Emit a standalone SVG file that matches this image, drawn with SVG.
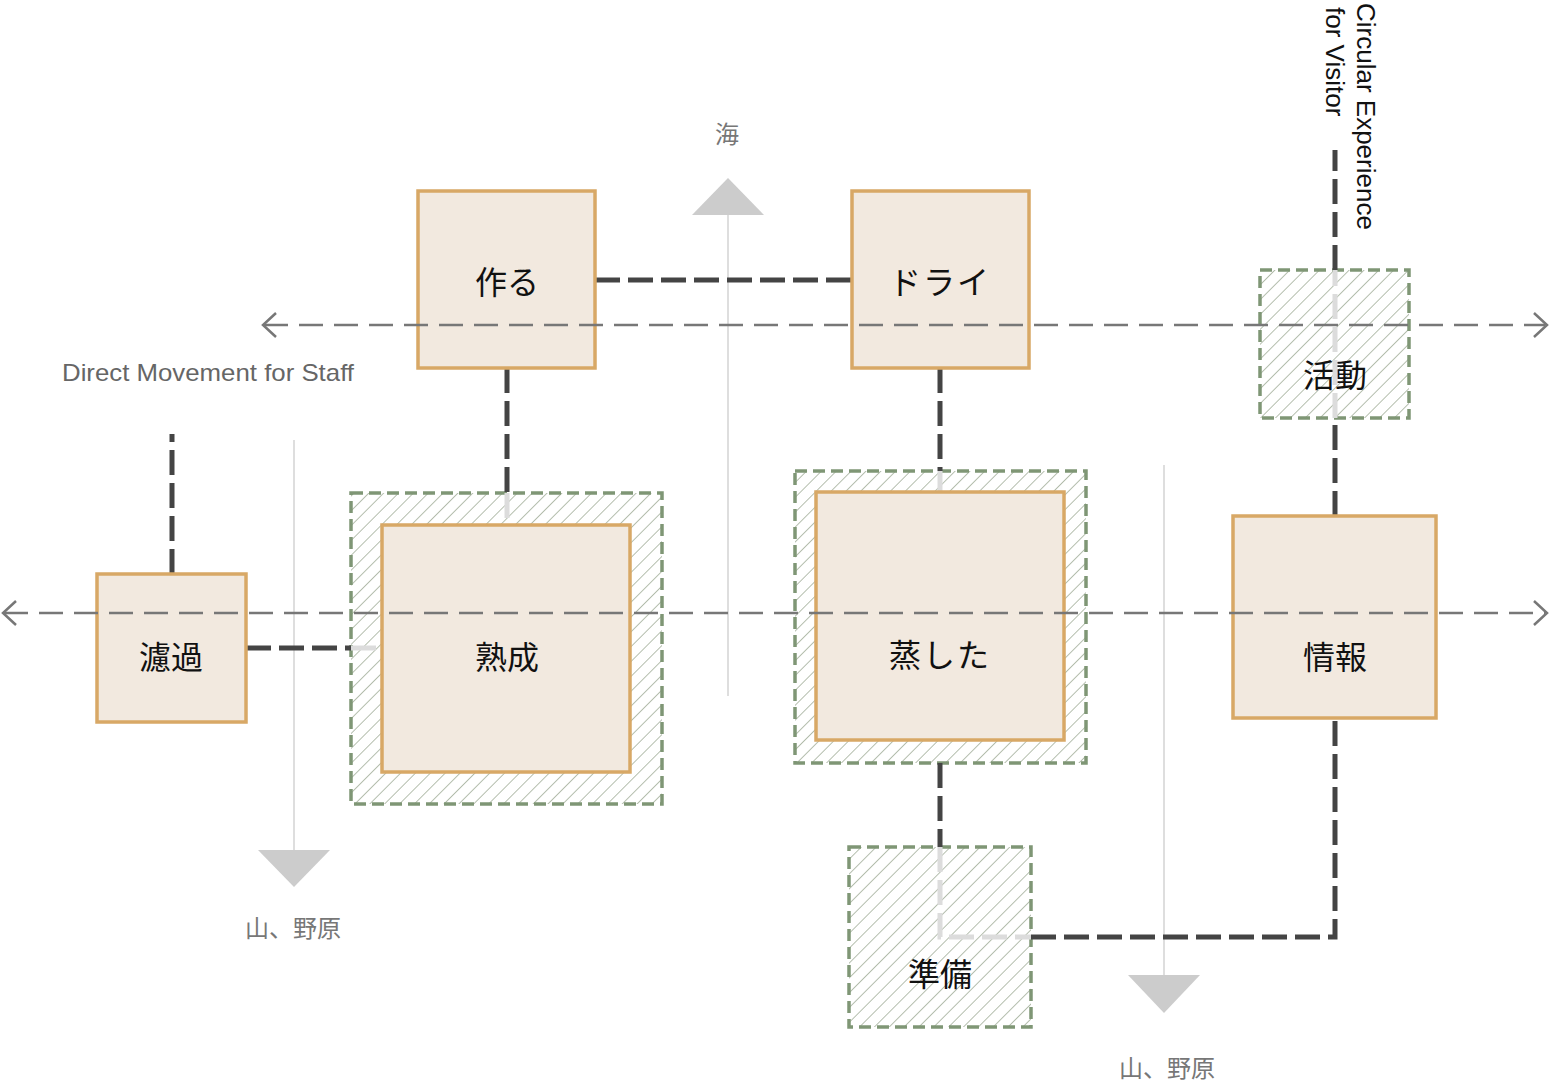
<svg xmlns="http://www.w3.org/2000/svg" width="1549" height="1081" viewBox="0 0 1549 1081">
<style>
.node{fill:#f2e9df;stroke:#d8a866;stroke-width:3.5}
.zone{fill:url(#hatch);stroke:#7f9675;stroke-width:3.5;stroke-dasharray:12 6}
.lbl{font-family:"Noto Sans CJK JP","Noto Sans",sans-serif;font-size:32px;fill:#111;text-anchor:middle;dominant-baseline:central}
.dir{font-family:"Noto Sans CJK JP","Noto Sans",sans-serif;font-size:24px;fill:#777;text-anchor:middle}
.en{font-family:"Liberation Sans",Arial,sans-serif;font-size:24px;fill:#666}
.ver{font-family:"Liberation Sans",Arial,sans-serif;font-size:26px;fill:#111}
.dark{fill:none;stroke:#444;stroke-width:5;stroke-dasharray:25 8}
.light{fill:none;stroke:#dcdcdc;stroke-width:5;stroke-dasharray:25 8}
.flow{fill:none;stroke:#777;stroke-width:2.5;stroke-dasharray:24 11}
.head{fill:none;stroke:#777;stroke-width:2.5}
.axis{fill:none;stroke:#dedede;stroke-width:2}
.tri{fill:#cccccc}
</style>
<defs>
<pattern id="hatch" patternUnits="userSpaceOnUse" width="10.5" height="10.5" patternTransform="rotate(45)">
<rect width="10.5" height="10.5" fill="#fff"/>
<line x1="0" y1="0" x2="0" y2="10.5" stroke="#adb8a6" stroke-width="1.8"/>
</pattern>
</defs>
<rect width="1549" height="1081" fill="#fff"/>

<g id="axes">
<line class="axis" x1="728" y1="214" x2="728" y2="696"/>
<polygon class="tri" points="692,215 764,215 728,178"/>
<line class="axis" x1="294" y1="440" x2="294" y2="851"/>
<polygon class="tri" points="258,850 330,850 294,887"/>
<line class="axis" x1="1164" y1="465" x2="1164" y2="976"/>
<polygon class="tri" points="1128,975 1200,975 1164,1013"/>
<text class="dir" x="727" y="143">海</text>
<text class="dir" x="293" y="937">山、野原</text>
<text class="dir" x="1167" y="1077">山、野原</text>
</g>

<g id="zone-jukusei"><rect class="zone" x="351" y="493" width="311" height="311"/></g>
<g id="zone-mushita"><rect class="zone" x="795" y="471" width="291" height="292"/></g>
<g id="zone-katsudo"><rect class="zone" x="1260" y="270" width="149" height="148"/><text class="lbl" x="1335" y="373">活動</text></g>
<g id="zone-junbi"><rect class="zone" x="849" y="847" width="182" height="180"/><text class="lbl" x="940" y="972">準備</text></g>

<g id="connectors">
<path class="light" d="M507,493 V525"/>
<path class="light" d="M940,471 V492"/>
<path class="light" d="M351,648 H382"/>
<path class="light" d="M940,847 V937 H1031"/>
<path class="light" d="M1335,418 V270"/>
<path class="dark" d="M595,280 H852"/>
<path class="dark" d="M507,368 V493"/>
<path class="dark" d="M940,368 V471"/>
<path class="dark" d="M246,648 H351"/>
<path class="dark" d="M172,574 V434"/>
<path class="dark" d="M940,763 V847"/>
<path class="dark" d="M1031,937 H1335 V718"/>
<path class="dark" d="M1335,516 V418"/>
<path class="dark" d="M1335,270 V150"/>
</g>

<g id="n-tsukuru"><rect class="node" x="418" y="191" width="177" height="177"/><text class="lbl" x="507" y="280">作る</text></g>
<g id="n-dry"><rect class="node" x="852" y="191" width="177" height="177"/><text class="lbl" x="940" y="280" letter-spacing="2">ドライ</text></g>
<g id="n-roka"><rect class="node" x="97" y="574" width="149" height="148"/><text class="lbl" x="171" y="655">濾過</text></g>
<g id="n-jukusei"><rect class="node" x="382" y="525" width="248" height="247"/><text class="lbl" x="507" y="655">熟成</text></g>
<g id="n-mushita"><rect class="node" x="816" y="492" width="248" height="248"/><text class="lbl" x="940" y="653" letter-spacing="2">蒸した</text></g>
<g id="n-joho"><rect class="node" x="1233" y="516" width="203" height="202"/><text class="lbl" x="1335" y="655">情報</text></g>

<g id="flows">
<line class="flow" x1="264" y1="325" x2="1545" y2="325"/>
<polyline class="head" points="276,313 263,325 276,337"/>
<polyline class="head" points="1534,313 1547,325 1534,337"/>
<line class="flow" x1="4" y1="613" x2="1545" y2="613"/>
<polyline class="head" points="16,601 3,613 16,625"/>
<polyline class="head" points="1534,601 1547,613 1534,625"/>
</g>

<g id="labels">
<text class="en" x="62" y="381" textLength="292" lengthAdjust="spacingAndGlyphs">Direct Movement for Staff</text>
<text class="ver" transform="translate(1357,3) rotate(90)">Circular Experience</text>
<text class="ver" transform="translate(1326,7) rotate(90)">for Visitor</text>
</g>
</svg>
